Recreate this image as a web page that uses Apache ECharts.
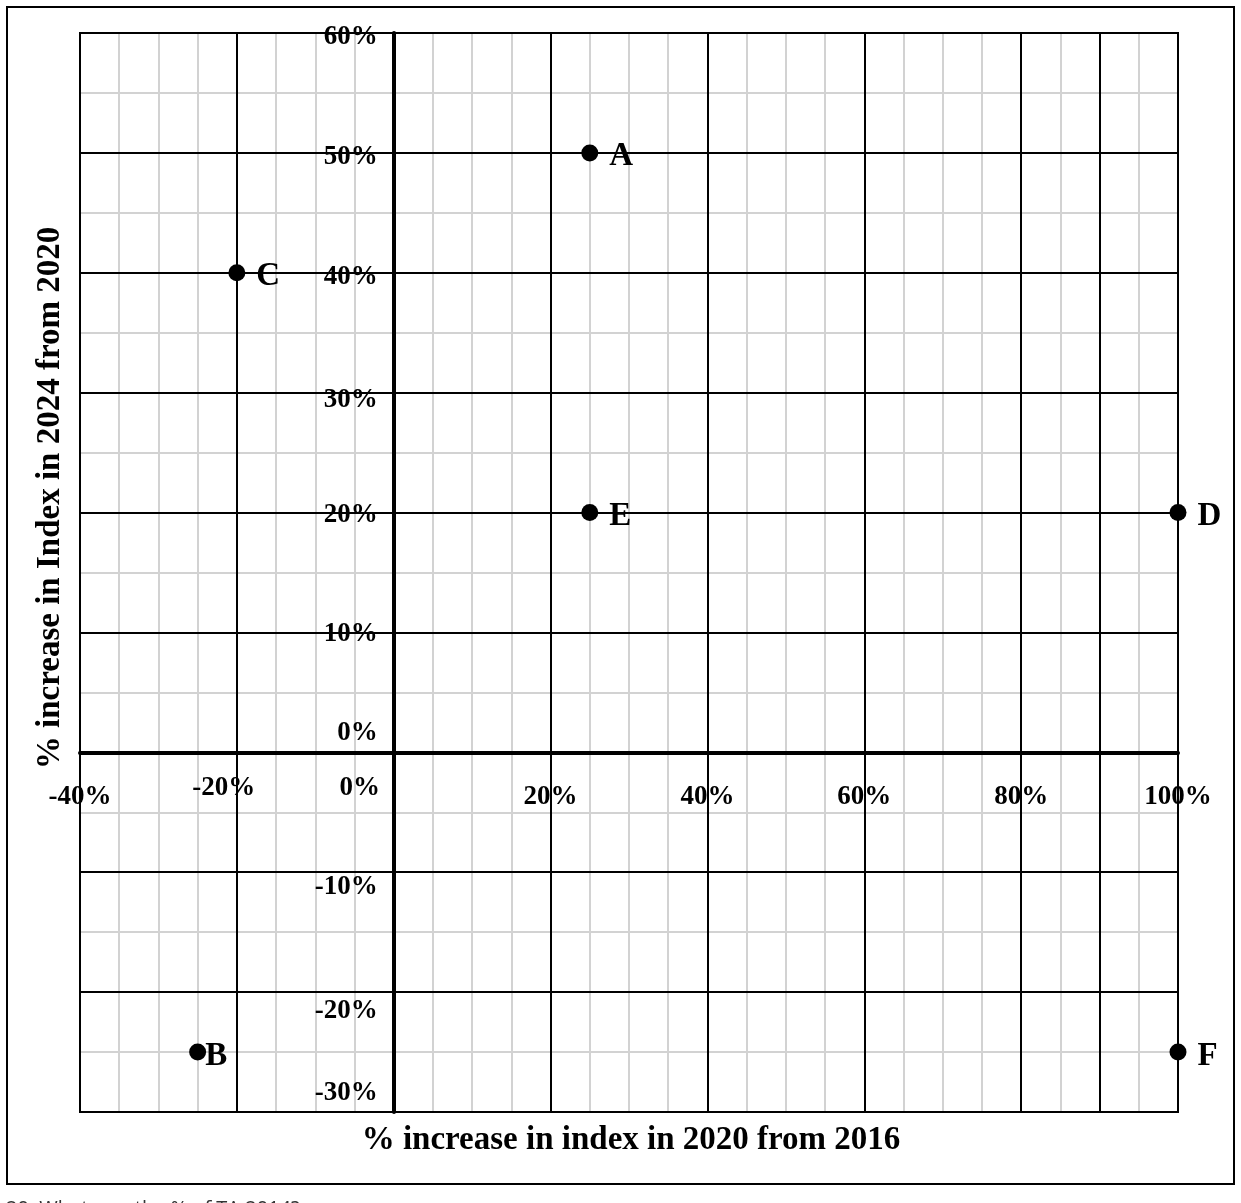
<!DOCTYPE html>
<html>
<head>
<meta charset="utf-8">
<title>Index change scatter</title>
<script src="https://cdn.jsdelivr.net/npm/echarts@6/dist/echarts.min.js"></script>
<style>
html, body { margin: 0; padding: 0; background: #fff; }
#chart { width: 1241px; height: 1203px; }
</style>
</head>
<body>
<div id="chart"></div>
<script>
// points: x = % change 2016->2020, y = % change 2020->2024
const pointNames = ['A', 'B', 'C', 'D', 'E', 'F'];
const xValues = [25, -25, -20, 100, 25, 100];
const yValues = [50, -25, 40, 20, 20, -25];

// axis ranges, dark grid lines and labelled ticks
const xMin = -40, xMax = 100;
const yMin = -30, yMax = 60;
const xDarkLines = [-40, -20, 0, 20, 40, 60, 80, 90, 100];
const xLabelValues = [-40, -20, 0, 20, 40, 60, 80, 100];

const SERIF = '"Liberation Serif", "Times New Roman", serif';

// colour per tick of the 10-step x axis (light ticks left out)
const xDarkColors = [];
for (let v = xMin; v <= xMax; v += 10) {
    xDarkColors.push(xDarkLines.includes(v) ? '#000' : 'rgba(0,0,0,0)');
}

// little nudges so the tick labels sit where the original has them
function yLabelStyle(v) {
    if (v === 0 || v === -30) return 'u19';
    if (v === -20) return 'd19';
    if (v === -10) return 'd15';
    if (v === 30) return 'd7';
    if (v === 20 || v === 10) return 'd2';
    return 'd4';
}

const baseText = { fontFamily: SERIF, fontWeight: 'bold', fontSize: 27, color: '#000' };

const myChart = echarts.init(document.getElementById('chart'));

const option = {
    backgroundColor: '#fff',
    animation: false,
    grid: {
        left: 80, top: 33, right: 63, bottom: 91,
        show: true, borderColor: '#000', borderWidth: 2,
        containLabel: false, outerBoundsMode: 'none'
    },
    xAxis: [{
        type: 'value', min: xMin, max: xMax, interval: 10, z: 3, position: 'bottom',
        axisLine: { onZero: false, lineStyle: { color: '#000', width: 4 } },
        axisTick: { show: false },
        splitLine: { show: true, lineStyle: { color: xDarkColors, width: 2 } },
        axisLabel: {
            margin: 22,
            formatter: function (v) {
                if (!xLabelValues.includes(v)) return '';
                let s = 'n';
                if (v === 0) s = 'z';
                else if (v === -20) s = 'm';
                return '{' + s + '|' + v + '%}';
            },
            rich: {
                n: Object.assign({}, baseText, { padding: [9, 0, 0, 0] }),
                m: Object.assign({}, baseText, { padding: [0, 26, 0, 0] }),
                z: Object.assign({}, baseText, { padding: [0, 68, 0, 0] })
            }
        }
    }, {
        type: 'value', min: xMin, max: xMax, interval: 5, z: 1,
        axisLine: { show: false }, axisTick: { show: false }, axisLabel: { show: false },
        splitLine: { show: true, lineStyle: { color: '#d2d2d2', width: 2 } }
    }],
    yAxis: [{
        type: 'value', min: yMin, max: yMax, interval: 10, z: 3, position: 'left',
        axisLine: { show: true, onZero: false, lineStyle: { color: '#000', width: 4 } },
        axisTick: { show: false },
        splitLine: { show: true, lineStyle: { color: '#000', width: 2 } },
        axisLabel: {
            margin: 16,
            formatter: function (v) {
                return '{' + yLabelStyle(v) + '|' + v + '%}';
            },
            rich: {
                d4: Object.assign({}, baseText, { padding: [8, 0, 0, 0] }),
                d7: Object.assign({}, baseText, { padding: [14, 0, 0, 0] }),
                d2: Object.assign({}, baseText, { padding: [4, 0, 0, 0] }),
                d15: Object.assign({}, baseText, { padding: [30, 0, 0, 0] }),
                d19: Object.assign({}, baseText, { padding: [38, 0, 0, 0] }),
                u19: Object.assign({}, baseText, { padding: [0, 0, 38, 0] })
            }
        }
    }, {
        type: 'value', min: yMin, max: yMax, interval: 5, z: 1,
        axisLine: { show: false }, axisTick: { show: false }, axisLabel: { show: false },
        splitLine: { show: true, lineStyle: { color: '#d2d2d2', width: 2 } }
    }],
    series: [{
        type: 'scatter',
        xAxisIndex: 0,
        yAxisIndex: 0,
        z: 10,
        symbol: 'circle',
        symbolSize: 17,
        itemStyle: { color: '#000', opacity: 1 },
        label: {
            show: true, position: 'right', distance: 11, offset: [0, 4],
            formatter: '{b}', fontFamily: SERIF, fontWeight: 'bold', fontSize: 33, color: '#000'
        },
        data: pointNames.map(function (n, i) {
            const item = { name: n, value: [xValues[i], yValues[i]] };
            // B's letter sits right against its dot
            if (n === 'B') item.label = { distance: -1 };
            return item;
        })
    }],
    graphic: [{
        type: 'rect', z: 0, silent: true,
        shape: { x: 7, y: 7, width: 1227, height: 1177 },
        style: { fill: 'none', stroke: '#000', lineWidth: 2 }
    }, {
        type: 'text', silent: true, x: 631, y: 1140,
        style: {
            text: '% increase in index in 2020 from 2016',
            fontFamily: SERIF, fontWeight: 'bold', fontSize: 33, fill: '#000',
            align: 'center', verticalAlign: 'middle'
        }
    }, {
        type: 'text', silent: true, x: 50, y: 498, rotation: Math.PI / 2,
        style: {
            text: '% increase in Index in 2024 from 2020',
            fontFamily: SERIF, fontWeight: 'bold', fontSize: 33, fill: '#000',
            align: 'center', verticalAlign: 'middle'
        }
    }, {
        type: 'text', silent: true, x: 6, y: 1199,
        style: {
            text: '20. What was the % of TA 2014?',
            fontFamily: '"Open Sans", sans-serif', fontSize: 20, fill: '#333',
            align: 'left', verticalAlign: 'top'
        }
    }]
};

myChart.setOption(option);

// move the labelled axes onto the zero lines, like the original
const zero = myChart.convertToPixel({ gridIndex: 0 }, [0, 0]);
const gridRect = myChart.getModel().getComponent('grid', 0).coordinateSystem.getRect();
myChart.setOption({
    xAxis: [{ offset: zero[1] - (gridRect.y + gridRect.height) }, {}],
    yAxis: [{ offset: gridRect.x - zero[0] }, {}]
});
</script>
</body>
</html>
